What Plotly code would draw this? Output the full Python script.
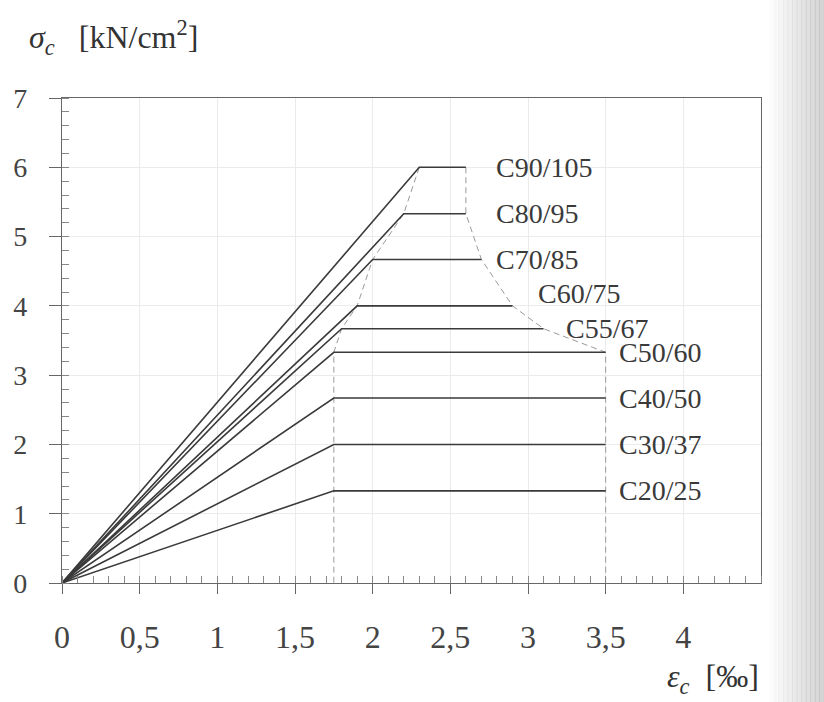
import plotly.graph_objects as go

# ---- data -------------------------------------------------------------
classes = ["C20/25", "C30/37", "C40/50", "C50/60", "C55/67",
           "C60/75", "C70/85", "C80/95", "C90/105"]
fcd = [1.33, 2.0, 2.67, 3.33, 3.67, 4.0, 4.67, 5.33, 6.0]        # kN/cm²
eps_c3 = [1.75, 1.75, 1.75, 1.75, 1.8, 1.9, 2.0, 2.2, 2.3]        # ‰
eps_cu3 = [3.5, 3.5, 3.5, 3.5, 3.1, 2.9, 2.7, 2.6, 2.6]           # ‰

x_ticks = [0, 0.5, 1, 1.5, 2, 2.5, 3, 3.5, 4]
x_tick_text = ["0", "0,5", "1", "1,5", "2", "2,5", "3", "3,5", "4"]
y_ticks = [0, 1, 2, 3, 4, 5, 6, 7]

# label placement (layout only)
label_x = [3.57, 3.57, 3.57, 3.57, 3.23, 3.05, 2.78, 2.78, 2.78]
label_yshift = [0, 0, 0, 0, 0, 12, 0, 0, 0]

SERIF = "Liberation Serif"
LINE = "#3a3a3a"
DASH = "#9a9a9a"

fig = go.Figure()

# dashed loci (high-strength classes: index 3..8)
hs = list(range(3, len(classes)))
peak_x = [eps_c3[i] for i in reversed(hs)] + [eps_c3[3]]
peak_y = [fcd[i] for i in reversed(hs)] + [0]
end_x = [eps_cu3[i] for i in reversed(hs)] + [eps_cu3[3]]
end_y = [fcd[i] for i in reversed(hs)] + [0]
for xs, ys in ((peak_x, peak_y), (end_x, end_y)):
    fig.add_trace(go.Scatter(x=xs, y=ys, mode="lines",
                             line=dict(color=DASH, width=1, dash="6px,4px"),
                             hoverinfo="skip", showlegend=False))

# bilinear stress-strain lines
for name, f, e1, e2 in zip(classes, fcd, eps_c3, eps_cu3):
    fig.add_trace(go.Scatter(x=[0, e1, e2], y=[0, f, f], mode="lines",
                             name=name,
                             line=dict(color=LINE, width=1.6),
                             showlegend=False))

# class labels
for name, f, lx, ys in zip(classes, fcd, label_x, label_yshift):
    fig.add_annotation(x=lx, y=f, text=name, showarrow=False,
                       xanchor="left", yanchor="middle", yshift=ys,
                       font=dict(family=SERIF, size=28, color="#3a3a3a"))

# axis titles
fig.add_annotation(xref="paper", yref="paper", x=-0.05, y=1.075,
                   xanchor="left", yanchor="bottom", showarrow=False,
                   text="<i>σ</i><sub><i>c</i></sub>&nbsp;&nbsp;&nbsp;[kN/cm<sup>2</sup>]",
                   font=dict(family=SERIF, size=32, color="#333"))
fig.add_annotation(xref="paper", yref="paper", x=1.0, y=-0.15,
                   xanchor="right", yanchor="top", showarrow=False,
                   text="<i>ε</i><sub><i>c</i></sub>&nbsp;&nbsp;[‰]",
                   font=dict(family=SERIF, size=32, color="#333"))

# scan shading on right side (decoration)
n_strips = 12
for k in range(n_strips):
    fig.add_shape(type="rect", xref="paper", yref="paper", layer="below",
                  x0=1.012 + k * 0.0065, x1=1.012 + (k + 1) * 0.0065 + 0.001,
                  y0=-0.5, y1=1.3, line=dict(width=0),
                  fillcolor="rgba(150,150,150,%.3f)" % (0.03 + 0.4 * k / n_strips))
fig.add_shape(type="rect", xref="paper", yref="paper", layer="below",
              x0=1.012 + n_strips * 0.0065, x1=1.2, y0=-0.5, y1=1.3,
              line=dict(width=0), fillcolor="rgba(150,150,150,0.45)")

fig.update_layout(
    width=824, height=702,
    margin=dict(l=62, r=63, t=98, b=119),
    paper_bgcolor="white", plot_bgcolor="white",
    font=dict(family=SERIF, color="#333"),
    xaxis=dict(range=[0, 4.5], tickvals=x_ticks, ticktext=x_tick_text,
               ticks="outside", ticklen=10, tickcolor="#666",
               ticklabelstandoff=15,
               tickfont=dict(family=SERIF, size=32, color="#444"),
               showline=True, linecolor="#666", linewidth=1.2, mirror=True,
               showgrid=True, gridcolor="#ebebeb", gridwidth=1,
               zeroline=False,
               minor=dict(dtick=0.1, ticks="inside", ticklen=7,
                          tickcolor="#888", showgrid=False)),
    yaxis=dict(range=[0, 7], tickvals=y_ticks,
               ticks="outside", ticklen=12, tickcolor="#666",
               ticklabelstandoff=16,
               tickfont=dict(family=SERIF, size=28, color="#444"),
               showline=True, linecolor="#666", linewidth=1.2, mirror=True,
               showgrid=True, gridcolor="#ebebeb", gridwidth=1,
               zeroline=False,
               minor=dict(dtick=0.2, ticks="inside", ticklen=7,
                          tickcolor="#888", showgrid=False)),
)

fig.write_html("out.html", config={"displayModeBar": False},
               post_script="document.body.style.margin='0';"
                           "document.body.style.overflow='hidden';")
